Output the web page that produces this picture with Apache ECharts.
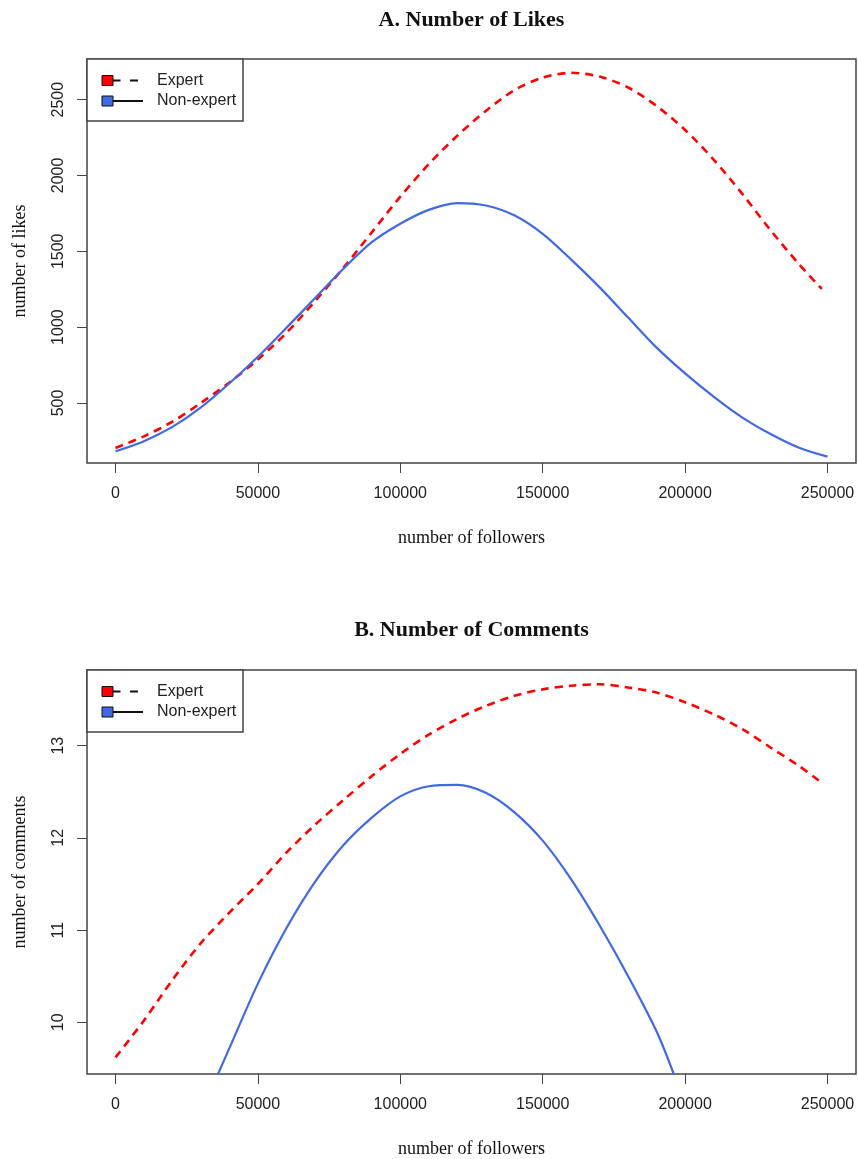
<!DOCTYPE html>
<html>
<head>
<meta charset="utf-8">
<script src="https://cdn.jsdelivr.net/npm/echarts@6/dist/echarts.min.js"></script>
<style>
  html, body { margin: 0; padding: 0; background: #fff; }
  #chart { width: 858px; height: 1159px; }
</style>
</head>
<body>
<div id="chart"></div>
<script>
// A. likes
const likesExpertX = [0, 10000, 20000, 30000, 40000, 50000, 60000, 70000, 80000, 90000, 100000, 110000, 120000,
  130000, 140000, 150000, 160000, 170000, 180000, 190000, 200000, 210000, 220000, 230000, 240000, 248000]
const likesExpert = [203, 280, 377, 500, 635, 787, 962, 1170, 1390, 1625, 1860, 2075, 2262,
  2425, 2562, 2645, 2677, 2652, 2580, 2458, 2300, 2105, 1880, 1639, 1415, 1252]
const likesNonExpertX = [0, 10000, 20000, 30000, 40000, 50000, 60000, 70000, 80000, 90000, 100000, 110000, 120000,
  130000, 140000, 150000, 160000, 170000, 180000, 190000, 200000, 210000, 220000, 230000, 240000, 250000]
const likesNonExpert = [181, 248, 342, 470, 630, 805, 995, 1190, 1385, 1560, 1682, 1773, 1818,
  1802, 1737, 1615, 1445, 1262, 1063, 865, 695, 542, 405, 295, 205, 146]

// B. comments
const commentsExpertX = [0, 10000, 20000, 30000, 40000, 50000, 60000, 70000, 80000, 90000, 100000, 110000, 120000,
  130000, 140000, 150000, 160000, 170000, 180000, 190000, 200000, 210000, 220000, 230000, 240000, 247000]
const commentsExpert = [9.62, 10.02, 10.46, 10.86, 11.19, 11.50, 11.84, 12.14, 12.41, 12.67, 12.91, 13.12, 13.29,
  13.43, 13.54, 13.61, 13.65, 13.665, 13.63, 13.575, 13.47, 13.34, 13.18, 12.98, 12.78, 12.62]
const commentsNonExpertX = [36000, 40000, 50000, 60000, 70000, 80000, 90000, 100000, 110000, 120000,
  130000, 140000, 150000, 160000, 170000, 180000, 190000, 196000]
const commentsNonExpert = [9.44, 9.72, 10.42, 11.02, 11.52, 11.92, 12.22, 12.45, 12.56, 12.575,
  12.49, 12.28, 11.97, 11.55, 11.05, 10.50, 9.90, 9.44]

// tick labels
const followerTicks = [0, 50000, 100000, 150000, 200000, 250000]
const likesTicks = [500, 1000, 1500, 2000, 2500]
const commentsTicks = [10, 11, 12, 13]

const titles = ['A. Number of Likes', 'B. Number of Comments']
const yNames = ['number of likes', 'number of comments']
const seriesNames = ['Expert', 'Non-expert']

const RED = '#ff0000'
const BLUE = '#4169e1'
const INK = '#444'
const GRID_LEFT = 87
const GRID_WIDTH = 769
const grids = [
  { left: GRID_LEFT, top: 59, width: GRID_WIDTH, height: 404 },
  { left: GRID_LEFT, top: 670, width: GRID_WIDTH, height: 406 }
]

const pairs = (xs, ys) => xs.map((x, i) => [x, ys[i]])

const xAxis = (gridIndex) => ({
  type: 'value',
  gridIndex,
  min: -10000,
  max: 260000,
  name: 'number of followers',
  nameLocation: 'middle',
  nameGap: 66,
  nameTextStyle: { fontFamily: 'Liberation Serif', fontSize: 18, color: '#111' },
  axisLine: { show: false, onZero: false },
  splitLine: { show: false },
  axisTick: { show: true, length: 10, lineStyle: { color: INK, width: 1 }, customValues: followerTicks },
  axisLabel: {
    customValues: followerTicks,
    formatter: v => String(v),
    margin: 23,
    fontFamily: 'Liberation Sans',
    fontSize: 16,
    color: '#222'
  }
})

const yAxis = (gridIndex, min, max, ticks, name) => ({
  type: 'value',
  gridIndex,
  min,
  max,
  name,
  nameLocation: 'middle',
  nameGap: 58,
  nameTextStyle: { fontFamily: 'Liberation Serif', fontSize: 18, color: '#111' },
  axisLine: { show: false, onZero: false },
  splitLine: { show: false },
  axisTick: { show: true, length: 10, lineStyle: { color: INK, width: 1 }, customValues: ticks },
  axisLabel: {
    customValues: ticks,
    formatter: v => String(v),
    rotate: 90,
    margin: 20,
    fontFamily: 'Liberation Sans',
    fontSize: 16,
    color: '#222'
  }
})

const line = (name, data, idx, color, dashed) => ({
  type: 'line',
  name,
  xAxisIndex: idx,
  yAxisIndex: idx,
  data,
  showSymbol: false,
  smooth: 0.3,
  clip: true,
  lineStyle: { color, width: dashed ? 2.6 : 2.2, type: dashed ? [8, 6] : 'solid' },
  itemStyle: { color }
})

// R-style legend box in the upper-left corner of a panel
const legendBox = (top) => {
  const x0 = GRID_LEFT
  const rows = [
    { name: seriesNames[0], color: RED, dash: [8, 9.5], len: 25.5, cy: top + 21.5 },
    { name: seriesNames[1], color: BLUE, dash: null, len: 30.5, cy: top + 42 }
  ]
  const els = [{
    type: 'rect', z: 100,
    shape: { x: x0, y: top, width: 156, height: 62 },
    style: { fill: '#fff', stroke: INK, lineWidth: 1.5 }
  }]
  rows.forEach(r => {
    els.push({
      type: 'line', z: 101,
      shape: { x1: x0 + 25.5, y1: r.cy, x2: x0 + 25.5 + r.len, y2: r.cy },
      style: { stroke: '#111', lineWidth: 2, lineDash: r.dash }
    })
    els.push({
      type: 'rect', z: 102,
      shape: { x: x0 + 15, y: r.cy - 5, width: 11, height: 10 },
      style: { fill: r.color, stroke: '#111', lineWidth: 1 }
    })
    els.push({
      type: 'text', z: 102,
      x: x0 + 70, y: r.cy,
      style: { text: r.name, font: '16px "Liberation Sans"', fill: '#222', verticalAlign: 'middle' }
    })
  })
  return els
}

const chart = echarts.init(document.getElementById('chart'))
chart.setOption({
  animation: false,
  backgroundColor: '#fff',
  title: titles.map((text, i) => ({
    text,
    left: GRID_LEFT + GRID_WIDTH / 2,
    textAlign: 'center',
    top: i === 0 ? 9 : 619,
    padding: 0,
    textStyle: { fontFamily: 'Liberation Serif', fontWeight: 'bold', fontSize: 22, color: '#111' }
  })),
  grid: grids.map(g => ({ ...g, show: true, borderColor: INK, borderWidth: 1.5, backgroundColor: 'transparent' })),
  xAxis: [xAxis(0), xAxis(1)],
  yAxis: [
    yAxis(0, 104, 2768, likesTicks, yNames[0]),
    yAxis(1, 9.44, 13.82, commentsTicks, yNames[1])
  ],
  series: [
    line(seriesNames[0], pairs(likesExpertX, likesExpert), 0, RED, true),
    line(seriesNames[1], pairs(likesNonExpertX, likesNonExpert), 0, BLUE, false),
    line(seriesNames[0], pairs(commentsExpertX, commentsExpert), 1, RED, true),
    line(seriesNames[1], pairs(commentsNonExpertX, commentsNonExpert), 1, BLUE, false)
  ],
  graphic: [...legendBox(grids[0].top), ...legendBox(grids[1].top)]
})
</script>
</body>
</html>
